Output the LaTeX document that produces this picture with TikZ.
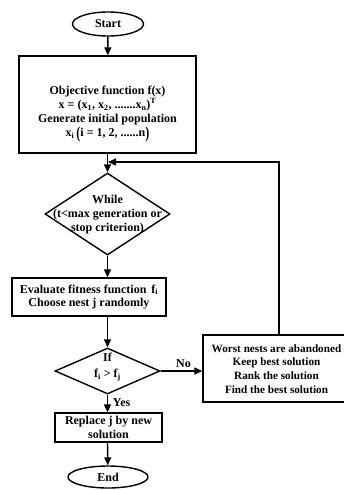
\documentclass[tikz,border=0pt]{standalone}
\usepackage{fontspec}
\setmainfont{Liberation Serif}
\usetikzlibrary{shapes.geometric,arrows.meta}

\tikzset{
  every node/.style={font=\bfseries\fontsize{12}{13.8}\selectfont, inner sep=0.75pt},
  flowline/.style={line width=1.4pt},
  arr/.style={flowline, -{Triangle[length=8pt,width=7pt]}},
  terminal/.style={ellipse, draw, line width=1.4pt},
  procbox/.style={rectangle, draw, line width=1.4pt},
  decision/.style={diamond, draw, line width=1.4pt, inner sep=0pt},
  txt/.style={align=center}
}
\newcommand{\tallparen}[1]{\raisebox{-1.5pt}{\scalebox{1}[1.4]{#1}}}

\begin{document}
\begin{tikzpicture}[x=1pt,y=1pt,yscale=-1,xscale=1]
\useasboundingbox (0,0) rectangle (344,490);

% Start
\node [terminal, minimum width=71, minimum height=24] (start) at (108,24) {Start};
% Objective box
\node [procbox, minimum width=177, minimum height=97] (objbox) at (107.5,104.5) {};
\node [txt] (objtxt) at (107.5,114) {Objective function f(x)\\
  x = (x\textsubscript{1}, x\textsubscript{2}, .......x\textsubscript{n})\textsuperscript{T}\\
  Generate initial population\\[1pt]
  x\textsubscript{i}\,\tallparen{(}i = 1, 2, ......n\tallparen{)}};
% While
\node [decision, minimum width=125, minimum height=82] (while) at (107.5,214) {};
\node [txt] (whiletxt) at (107.5,214.5) {While\\(t<max generation or\\stop criterion)};
% Fitness box
\node [procbox, minimum width=154, minimum height=38, txt] (fitbox) at (89,297)
  {Evaluate fitness function\, f\textsubscript{i}\\Choose nest j randomly};
% If
\node [decision, minimum width=105, minimum height=46] (cond) at (107.5,371) {};
\node (iftxt) at (107.5,357) {If};
\node (cmptxt) at (107.5,375) {f\textsubscript{i} > f\textsubscript{j}};
% Worst box
\node [procbox, minimum width=152, minimum height=67] (worst) at (279,368.5) {};
\node [txt, font=\bfseries\fontsize{11.2}{13.8}\selectfont] (worsttxt) at (276.5,369)
  {Worst nests are abandoned\\Keep best solution\\Rank the solution\\Find the best solution};
% Replace box
\node [procbox, minimum width=107, minimum height=29, txt] (repl) at (108.5,427.5)
  {Replace j by new\\solution};
% End
\node [terminal, minimum width=80, minimum height=22] (end) at (108,477) {End};
\coordinate (loopin) at (108,162);

% Connectors
\draw [arr] (start) -- (objbox);
\draw [arr] (objbox.south -| while.north) -- (while.north);
\draw [arr] (worst.north) |- (loopin);
\draw [arr] (while.south) -- (while.south |- fitbox.north);
\draw [arr] (cond.north |- fitbox.south) -- (cond.north);
\draw [arr] (cond.east) -- node [above=2pt, pos=0.55] {No} (worst.west |- cond.east);
\draw [arr] (cond.south) -- node [right=4pt, pos=0.45] {Yes} (cond.south |- repl.north);
\draw [arr] (cond.south |- repl.south) -- (end);

\end{tikzpicture}
\end{document}
